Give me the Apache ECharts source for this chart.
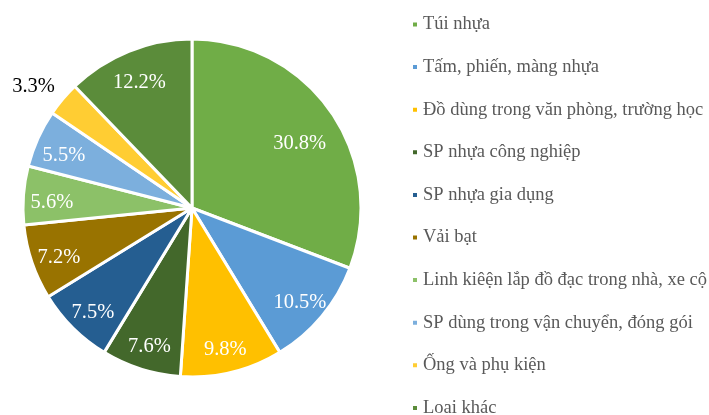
<!DOCTYPE html>
<html><head><meta charset="utf-8">
<script src="https://cdn.jsdelivr.net/npm/echarts@6/dist/echarts.min.js"></script>
<style>html,body{margin:0;padding:0;background:#fff}#c{width:709px;height:415px}</style>
</head><body><div id="c"></div>
<script>
const categories = ["Túi nhựa","Tấm, phiến, màng nhựa","Đồ dùng trong văn phòng, trường học","SP nhựa công nghiệp","SP nhựa gia dụng","Vải bạt","Linh kiêện lắp đồ đạc trong nhà, xe cộ","SP dùng trong vận chuyển, đóng gói","Ống và phụ kiện","Loai khác"];
const values = [30.8,10.5,9.8,7.6,7.5,7.2,5.6,5.5,3.3,12.2];
const colors = ["#70AD47","#5B9BD5","#FFC000","#43682B","#255E91","#997300","#8CC168","#7CAFDD","#FFCD33","#5B8C3A"];
const FONT = "'Liberation Serif','Times New Roman',serif";
const chart = echarts.init(document.getElementById('c'));
const center = [192, 208];
const R = 169;
const legendBase = {
  orient:'vertical', left:411, padding:0,
  itemWidth:6, itemHeight:6, itemGap:23.6,
  icon:'rect',
  textStyle:{fontFamily:FONT, fontSize:18.5, color:'#595959', lineHeight:18}
};
chart.setOption({
  animation:false,
  color: colors,
  legend:[
    Object.assign({}, legendBase, {top:15, data: categories.slice(0, 9)}),
    Object.assign({}, legendBase, {top:398.5, data: categories.slice(9)})
  ],
  series:[
    {
      type:'pie', center:center, radius:[0,R], startAngle:90, clockwise:true,
      itemStyle:{borderColor:'#fff', borderWidth:3},
      label:{show:false}, labelLine:{show:false}, silent:true,
      data: categories.map((n,i)=>({name:n, value:values[i]}))
    },
    {
      type:'pie', center:center, radius:[106,R], startAngle:90, clockwise:true,
      avoidLabelOverlap:false, silent:true, legendHoverLink:false,
      itemStyle:{color:'rgba(0,0,0,0)', borderWidth:0},
      label:{show:true, position:'inside', color:'#fff', fontFamily:FONT, fontSize:20.5,
        offset:[0,5],
        formatter: p => p.value.toFixed(1)+'%'},
      labelLine:{show:false},
      data: categories.map((n,i)=>{
        const d = {name:n, value:values[i]};
        if (i === 0) d.label = {offset:[-8,15]};
        if (values[i] < 4) {
          d.label = {position:'outside', color:'#000', distanceToLabelLine:0, offset:[2,-4]};
          d.labelLine = {show:false, length:13, length2:0};
        }
        return d;
      })
    }
  ]
});
</script></body></html>
